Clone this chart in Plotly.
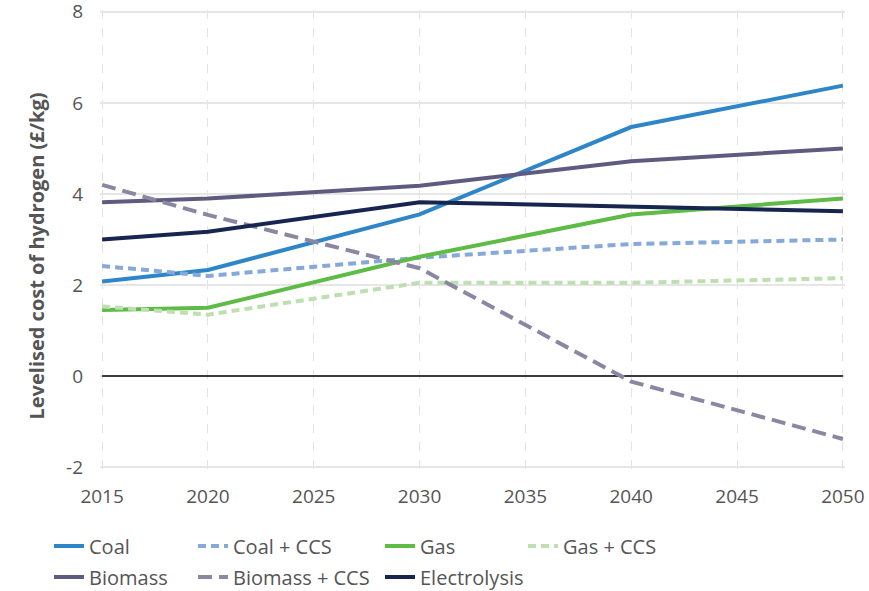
import plotly.graph_objects as go

years = [2015, 2020, 2030, 2040, 2050]

coal = [2.08, 2.33, 3.55, 5.47, 6.38]
coal_ccs = [2.42, 2.20, 2.60, 2.90, 3.00]
gas = [1.45, 1.50, 2.62, 3.55, 3.90]
gas_ccs = [1.53, 1.35, 2.05, 2.05, 2.15]
biomass = [3.82, 3.90, 4.18, 4.72, 5.00]
biomass_ccs = [4.20, 3.54, 2.37, -0.12, -1.38]
electrolysis = [3.00, 3.17, 3.82, 3.72, 3.62]

x_ticks = [2015, 2020, 2025, 2030, 2035, 2040, 2045, 2050]
y_ticks = [-2, 0, 2, 4, 6, 8]
y_labels = ["-2", "0", "2", "4", "6", "8"]

# name, values, colour, dash, legend position (px from left, px from top)
series = [
    ("Coal", coal, "#2E86C8", "solid", (49, 546)),
    ("Coal + CCS", coal_ccs, "#84A9DA", "8px,5px", (193, 546)),
    ("Gas", gas, "#5DBB46", "solid", (380, 546)),
    ("Gas + CCS", gas_ccs, "#BEDFB0", "8px,5px", (523, 546)),
    ("Biomass", biomass, "#5F5B80", "solid", (49, 577)),
    ("Biomass + CCS", biomass_ccs, "#8A87A3", "14px,7px", (193, 577)),
    ("Electrolysis", electrolysis, "#172550", "solid", (380, 577)),
]

font = "Open Sans, Noto Sans, sans-serif"
grey = "#555555"
W, H = 869, 591

fig = go.Figure()

# zero line
fig.add_trace(go.Scatter(
    x=[2015, 2050], y=[0, 0], mode="lines",
    line=dict(color="black", width=1.5), showlegend=False, hoverinfo="skip"
))

legends = {}
for i, (name, vals, color, dash, (lx, ly)) in enumerate(series):
    key = "legend" if i == 0 else f"legend{i + 1}"
    fig.add_trace(go.Scatter(
        x=years, y=vals, name=name, mode="lines", legend=key,
        line=dict(color=color, width=4, dash=dash)
    ))
    legends[key] = dict(
        orientation="h", xref="container", yref="container",
        x=lx / W, y=1 - ly / H, xanchor="left", yanchor="middle",
        font=dict(size=20, color=grey, family=font),
        bgcolor="rgba(0,0,0,0)",
    )

fig.update_layout(
    width=W, height=H,
    margin=dict(l=100, r=24, t=10, b=122, autoexpand=False),
    plot_bgcolor="white", paper_bgcolor="white",
    font=dict(family=font, size=19, color=grey),
    **legends,
)

fig.add_annotation(
    text="<b>Levelised cost of hydrogen (£/kg)</b>", textangle=-90,
    xref="paper", yref="paper", x=(20 - 100) / 745, y=(469 - 256) / 459,
    showarrow=False, font=dict(size=20, color=grey, family=font),
)

fig.update_xaxes(
    range=[2014.9, 2050.1], tickvals=x_ticks,
    showgrid=True, gridcolor="#E3E3E3", griddash="dash", gridwidth=1,
    zeroline=False, showline=False, ticks="", ticklabelstandoff=14,
    ticklabeloverflow="allow", automargin=False,
)
fig.update_yaxes(
    range=[-2.04, 8.04], tickvals=y_ticks, ticktext=y_labels,
    showgrid=True, gridcolor="#E6E6E6", gridwidth=1.5,
    zeroline=False, showline=False, ticks="", ticklabelstandoff=16,
    ticklabeloverflow="allow", automargin=False,
)

fig.write_html("out.html", config={"displayModeBar": False},
               post_script="document.body.style.margin='0';")
